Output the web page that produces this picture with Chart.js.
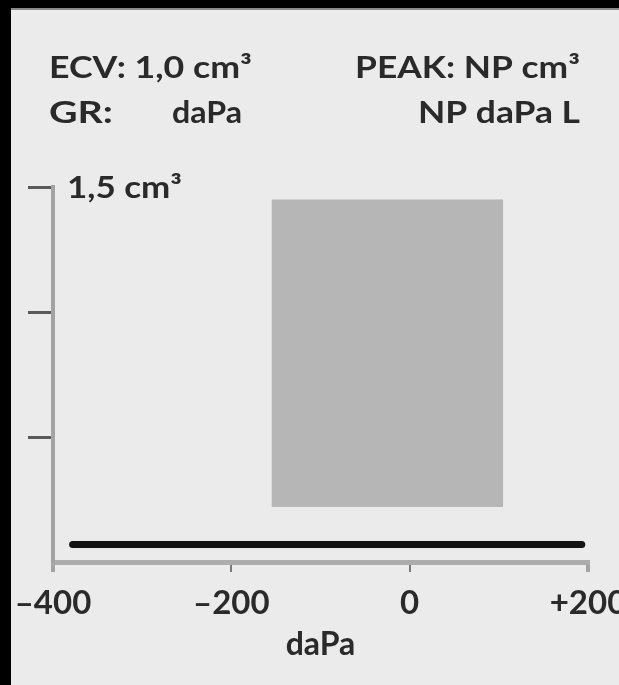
<!DOCTYPE html>
<html><head><meta charset="utf-8">
<script src="https://cdn.jsdelivr.net/npm/chart.js@4"></script>
<style>html,body{margin:0;padding:0;background:#000;overflow:hidden}canvas{display:block}</style>
</head><body>
<canvas id="c" width="619" height="685"></canvas>
<script>
// ---- data ----
const pressureTicks = [-400, -200, 0, 200];
const pressureTickLabels = ['–400', '–200', '0', '+200'];
const volumeTicks = [0, 0.5, 1.0, 1.5];
const volumeTopLabel = '1,5 cm³';
const normalBoxPressure = [-155, 105];
const normalBoxVolume = [0.22, 1.45];
const tracePressure = [-378, 193];
const traceVolume = [0.07, 0.07];
const headerLeft = ['ECV: 1,0 cm³', 'GR:', 'daPa'];
const headerRight = ['PEAK: NP cm³', 'NP daPa L'];
const xTitle = 'daPa';

const FONT = 'Lato';
const TEXT = '#2a2a2a';

function fitText(ctx, text, x, y, w, align) {
  const m = ctx.measureText(text).width;
  ctx.save();
  ctx.translate(align === 'right' ? x - w : x, y);
  ctx.scale(w / m, 1);
  ctx.textAlign = 'left';
  ctx.textBaseline = 'alphabetic';
  ctx.fillText(text, 0, 0);
  ctx.restore();
}

const frame = {
  id: 'frame',
  beforeDraw(chart) {
    const ctx = chart.ctx;
    ctx.save();
    ctx.fillStyle = '#000';
    ctx.fillRect(0, 0, chart.width, chart.height);
    ctx.fillStyle = '#ebebeb';
    ctx.fillRect(11, 10, chart.width - 11, chart.height - 10);
    ctx.fillStyle = '#8a8a8a';
    ctx.fillRect(11, 8, chart.width - 11, 2);
    ctx.restore();
  },
  afterDraw(chart) {
    const ctx = chart.ctx;
    ctx.save();
    ctx.fillStyle = TEXT;
    ctx.font = 'bold 30px ' + FONT;
    fitText(ctx, headerLeft[0], 49, 78, 203, 'left');
    fitText(ctx, headerLeft[1], 49, 123, 64, 'left');
    fitText(ctx, headerLeft[2], 172, 123, 70, 'left');
    fitText(ctx, headerRight[0], 580, 78, 225, 'right');
    fitText(ctx, headerRight[1], 580, 123, 162, 'right');
    const ys = chart.scales.y;
    const top = ys.getPixelForValue(volumeTicks[volumeTicks.length - 1]);
    fitText(ctx, volumeTopLabel, ys.right + 14, top + 11, 115, 'left');
    ctx.restore();
  }
};

const isEnd = (c) => c.index === 0 || c.index === pressureTicks.length - 1;

new Chart(document.getElementById('c'), {
  type: 'scatter',
  data: {
    datasets: [
      {
        data: normalBoxPressure.map(p => ({x: p, y: normalBoxVolume[1]})),
        showLine: true,
        borderWidth: 0,
        borderColor: 'rgba(0,0,0,0)',
        backgroundColor: '#b6b6b6',
        fill: {value: normalBoxVolume[0]},
        pointRadius: 0
      },
      {
        data: tracePressure.map((p, i) => ({x: p, y: traceVolume[i]})),
        showLine: true,
        borderWidth: 7,
        borderColor: '#141414',
        borderCapStyle: 'round',
        pointRadius: 0,
        fill: false
      }
    ]
  },
  options: {
    responsive: false,
    animation: false,
    devicePixelRatio: 1,
    layout: {padding: {top: 187, right: 31, bottom: 0, left: 0}},
    plugins: {legend: {display: false}, tooltip: {enabled: false}},
    scales: {
      x: {
        type: 'linear',
        min: pressureTicks[0],
        max: pressureTicks[pressureTicks.length - 1],
        afterBuildTicks: s => { s.ticks = pressureTicks.map(v => ({value: v})); },
        afterFit: s => { s.height = 123; s.paddingLeft = 0; s.paddingRight = 0; },
        border: {display: true, color: '#adadad', width: 5},
        grid: {
          display: true, drawOnChartArea: false, drawTicks: true, tickLength: 10,
          color: c => isEnd(c) ? '#a3a3a3' : '#7a7a7a',
          lineWidth: c => isEnd(c) ? 4 : 2
        },
        ticks: {
          color: TEXT, padding: 12, maxRotation: 0, autoSkip: false,
          font: {family: FONT, size: 33, weight: 'bold'},
          callback: (v) => pressureTickLabels[pressureTicks.indexOf(v)]
        },
        title: {
          display: true, text: xTitle, color: TEXT,
          font: {family: FONT, size: 32, weight: 'bold'},
          padding: {top: 0, bottom: 21}
        }
      },
      y: {
        type: 'linear',
        min: volumeTicks[0],
        max: volumeTicks[volumeTicks.length - 1],
        afterBuildTicks: s => { s.ticks = volumeTicks.map(v => ({value: v})); },
        afterFit: s => { s.width = 53; s.paddingTop = 0; s.paddingBottom = 0; },
        border: {display: true, color: '#a3a3a3', width: 4},
        grid: {
          display: true, drawOnChartArea: false, drawTicks: true, tickLength: 25,
          color: c => c.tick && c.tick.value === 0 ? 'rgba(0,0,0,0)' : '#5a5a5a',
          lineWidth: 3
        },
        ticks: {display: false}
      }
    }
  },
  plugins: [frame]
});
</script>
</body></html>
